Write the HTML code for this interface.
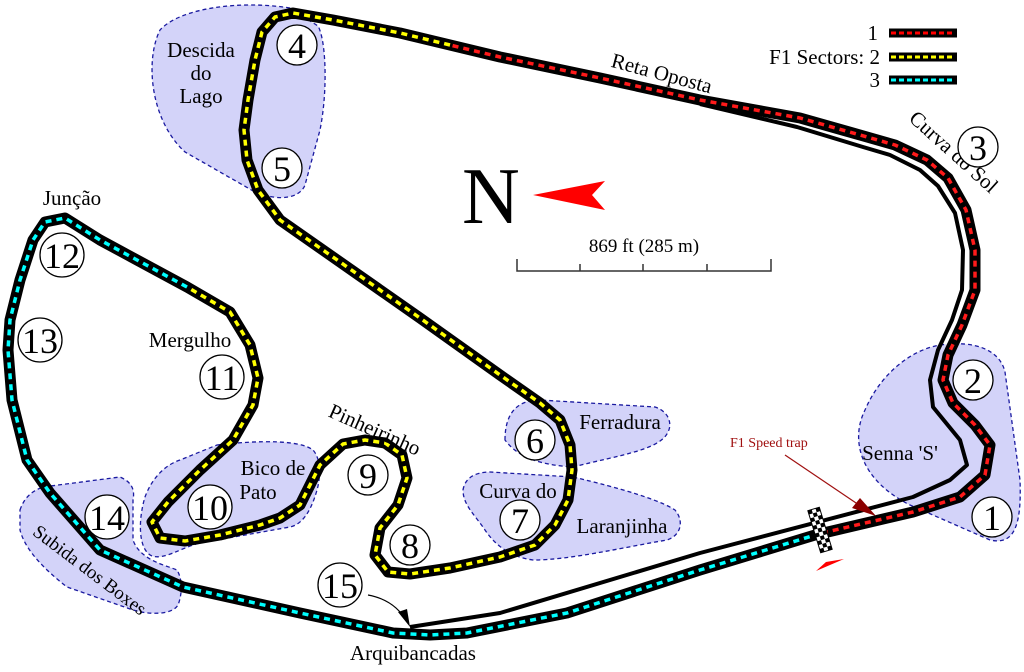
<!DOCTYPE html>
<html><head><meta charset="utf-8"><style>
html,body{margin:0;padding:0;background:#fff;}
svg{display:block;}
text{font-family:"Liberation Serif",serif;fill:#000;}
.blob{fill:#c8c8f8;fill-opacity:0.8;stroke:#1a1aa0;stroke-width:1.3;stroke-dasharray:4,3;}
.bk{fill:none;stroke:#000;stroke-width:11;stroke-linejoin:round;stroke-linecap:round;}
.d{fill:none;stroke-width:3.5;stroke-dasharray:6,5;stroke-linejoin:round;}
.num{fill:#fff;stroke:#000;stroke-width:1.3;}
.nt{font-size:36px;text-anchor:middle;}
.lb{font-size:21px;}
</style></head><body>
<svg width="1024" height="672" viewBox="0 0 1024 672" xmlns="http://www.w3.org/2000/svg">
<path class="blob" d="M290,8 C240,0 180,8 160,30 C145,60 150,120 185,152 L255,192 C280,202 300,198 305,185 L320,130 C328,90 326,40 318,26 Z"/>
<path class="blob" d="M940,345 C975,340 1000,350 1005,372 L1020,480 C1022,530 1012,545 990,540 L910,505 C860,480 850,440 865,410 C880,375 910,350 940,345Z"/>
<path class="blob" d="M217,445 C260,440 300,440 313,450 C322,460 320,480 317,490 C310,515 300,525 290,527 L200,543 C180,548 165,560 152,556 C138,550 138,520 145,497 C152,478 165,465 180,460 Z"/>
<path class="blob" d="M20,510 C25,495 35,490 43,487 L120,477 C132,482 135,490 133,500 L133,540 C140,560 165,565 177,570 C183,580 182,595 178,605 C172,615 150,615 133,610 L67,587 C45,570 25,550 20,530 Z"/>
<path class="blob" d="M505,440 C505,410 520,400 540,400 L655,407 C670,412 672,425 668,432 C660,450 620,455 573,467 C545,465 520,460 505,440Z"/>
<path class="blob" d="M463,490 C465,478 475,472 490,472 L573,477 C620,488 660,500 675,510 C685,522 680,536 667,540 C620,548 570,560 533,560 C510,557 495,545 485,530 C475,515 463,505 463,490Z"/>

<polyline fill="none" stroke="#000" stroke-width="4" stroke-linejoin="round" points="410,627 500,613 700,553 913,497 950,480 967,465 960,440 933,407 930,380 938,350 952,320 962,290 963,250 955,213 938,186 920,170 890,155 863,147 797,127 700,104"/>

<polyline class="bk" points="815,535 913,512 960,497 985,475 990,445 975,425 953,403 943,380 948,355 962,325 975,290 975,250 966,210 948,178 927,160 895,145 867,137 800,118 700,100 600,78 500,57 450,45 400,33 333,20 293,13 275,17 262,32 255,60 248,100 244,130 247,160 258,190 280,220 330,255 420,318 500,375 540,403 560,420 570,445 572,470 568,500 555,525 535,545 500,557 450,568 410,574 388,572 375,555 380,528 398,505 407,478 402,455 385,443 365,440 343,444 320,465 300,505 280,518 260,525 220,535 185,541 160,538 152,522 168,502 200,470 233,440 253,405 258,378 250,345 230,312 187,287 100,240 65,218 45,222 33,240 20,280 10,320 8,350 12,400 27,460 50,493 100,550 183,587 300,613 393,633 430,635 467,633 567,613 700,570 815,535"/>
<polyline class="d" stroke="#ff1a1a" points="822,533 913,512 960,497 985,475 990,445 975,425 953,403 943,380 948,355 962,325 975,290 975,250 966,210 948,178 927,160 895,145 867,137 800,118 700,100 600,78 500,57 450,45"/>
<polyline class="d" stroke="#ffff00" points="450,45 400,33 333,20 293,13 275,17 262,32 255,60 248,100 244,130 247,160 258,190 280,220 330,255 420,318 500,375 540,403 560,420 570,445 572,470 568,500 555,525 535,545 500,557 450,568 410,574 388,572 375,555 380,528 398,505 407,478 402,455 385,443 365,440 343,444 320,465 300,505 280,518 260,525 220,535 185,541 160,538 152,522 168,502 200,470 233,440 253,405 258,378 250,345 230,312 187,287"/>
<polyline class="d" stroke="#00ffff" points="187,287 100,240 65,218 45,222 33,240 20,280 10,320 8,350 12,400 27,460 50,493 100,550 183,587 300,613 393,633 430,635 467,633 567,613 700,570 812,536"/>

<g transform="translate(820,530) rotate(-17)">
<rect x="-6" y="-22" width="12" height="44" fill="#fff" stroke="#000" stroke-width="1"/>
<g fill="#000">
<rect x="-6" y="-22" width="4" height="4"/><rect x="2" y="-22" width="4" height="4"/><rect x="-2" y="-18" width="4" height="4"/>
<rect x="-6" y="-14" width="4" height="4"/><rect x="2" y="-14" width="4" height="4"/><rect x="-2" y="-10" width="4" height="4"/>
<rect x="-6" y="-6" width="4" height="4"/><rect x="2" y="-6" width="4" height="4"/><rect x="-2" y="-2" width="4" height="4"/>
<rect x="-6" y="2" width="4" height="4"/><rect x="2" y="2" width="4" height="4"/><rect x="-2" y="6" width="4" height="4"/>
<rect x="-6" y="10" width="4" height="4"/><rect x="2" y="10" width="4" height="4"/><rect x="-2" y="14" width="4" height="4"/>
<rect x="-6" y="18" width="4" height="4"/><rect x="2" y="18" width="4" height="4"/>
</g></g>
<polygon points="816,571 844,559 826,562" fill="#f00"/>

<text x="730" y="447" style="font-size:14px;fill:#a01010">F1 Speed trap</text>
<line x1="785" y1="455" x2="862" y2="507" stroke="#a01010" stroke-width="1.2"/>
<polygon points="876,516 852,508 860,498" fill="#8b0000"/>

<path d="M368,595 Q395,600 407,622" fill="none" stroke="#000" stroke-width="1.2"/>
<polygon points="410,627 398,612 407,609" fill="#000"/>

<text x="462" y="223" style="font-size:80px">N</text>
<polygon points="533,195 605,181 592,195 605,210" fill="#f00"/>
<text x="644" y="252" style="font-size:19px" text-anchor="middle">869 ft (285 m)</text>
<path d="M517,259 V271 H771 V259 M580,271 V264 M643,271 V264 M707,271 V264" fill="none" stroke="#333" stroke-width="1.5"/>

<text x="878" y="40" class="lb" text-anchor="end">1</text>
<text x="880" y="64" class="lb" text-anchor="end">F1 Sectors: 2</text>
<text x="880" y="87" class="lb" text-anchor="end">3</text>
<g stroke-linecap="butt">
<line x1="889" y1="33" x2="957" y2="33" stroke="#000" stroke-width="9"/>
<line x1="891" y1="33" x2="955" y2="33" stroke="#f00" stroke-width="3" stroke-dasharray="5,3"/>
<line x1="889" y1="57" x2="957" y2="57" stroke="#000" stroke-width="9"/>
<line x1="891" y1="57" x2="955" y2="57" stroke="#ff0" stroke-width="3" stroke-dasharray="5,3"/>
<line x1="889" y1="80" x2="957" y2="80" stroke="#000" stroke-width="9"/>
<line x1="891" y1="80" x2="955" y2="80" stroke="#0ff" stroke-width="3" stroke-dasharray="5,3"/>
</g>

<text x="201" y="57" class="lb" text-anchor="middle">Descida</text>
<text x="201" y="80" class="lb" text-anchor="middle">do</text>
<text x="201" y="103" class="lb" text-anchor="middle">Lago</text>
<text x="72" y="205" class="lb" text-anchor="middle">Junção</text>
<text x="190" y="347" class="lb" text-anchor="middle">Mergulho</text>
<text x="273" y="475" class="lb" text-anchor="middle">Bico de</text>
<text x="258" y="499" class="lb" text-anchor="middle">Pato</text>
<text x="620" y="429" class="lb" text-anchor="middle">Ferradura</text>
<text x="518" y="498" class="lb" text-anchor="middle">Curva do</text>
<text x="622" y="533" class="lb" text-anchor="middle">Laranjinha</text>
<text x="900" y="460" class="lb" text-anchor="middle">Senna 'S'</text>
<text x="413" y="660" class="lb" text-anchor="middle">Arquibancadas</text>
<text transform="translate(372,436) rotate(24)" class="lb" text-anchor="middle">Pinheirinho</text>
<text transform="translate(86,575) rotate(37)" style="font-size:19px" text-anchor="middle">Subida dos Boxes</text>
<text transform="translate(660,80) rotate(15)" class="lb" text-anchor="middle">Reta Oposta</text>
<text transform="translate(949,157) rotate(42)" class="lb" text-anchor="middle">Curva do Sol</text>

<g>
<circle class="num" cx="992" cy="517" r="20"/><text class="nt" x="992" y="530">1</text>
<circle class="num" cx="973" cy="380" r="20"/><text class="nt" x="973" y="393">2</text>
<circle class="num" cx="978" cy="147" r="20"/><text class="nt" x="978" y="160">3</text>
<circle class="num" cx="297" cy="45" r="20"/><text class="nt" x="297" y="58">4</text>
<circle class="num" cx="282" cy="168" r="20"/><text class="nt" x="282" y="181">5</text>
<circle class="num" cx="535" cy="440" r="20"/><text class="nt" x="535" y="453">6</text>
<circle class="num" cx="520" cy="520" r="20"/><text class="nt" x="520" y="533">7</text>
<circle class="num" cx="410" cy="545" r="20"/><text class="nt" x="410" y="558">8</text>
<circle class="num" cx="368" cy="475" r="20"/><text class="nt" x="368" y="488">9</text>
<circle class="num" cx="210" cy="507" r="22"/><text class="nt" x="210" y="520">10</text>
<circle class="num" cx="222" cy="377" r="22"/><text class="nt" x="222" y="390">11</text>
<circle class="num" cx="62" cy="255" r="22"/><text class="nt" x="62" y="268">12</text>
<circle class="num" cx="40" cy="340" r="22"/><text class="nt" x="40" y="353">13</text>
<circle class="num" cx="107" cy="517" r="22"/><text class="nt" x="107" y="530">14</text>
<circle class="num" cx="340" cy="585" r="22"/><text class="nt" x="340" y="598">15</text>
</g>
</svg>
</body></html>
